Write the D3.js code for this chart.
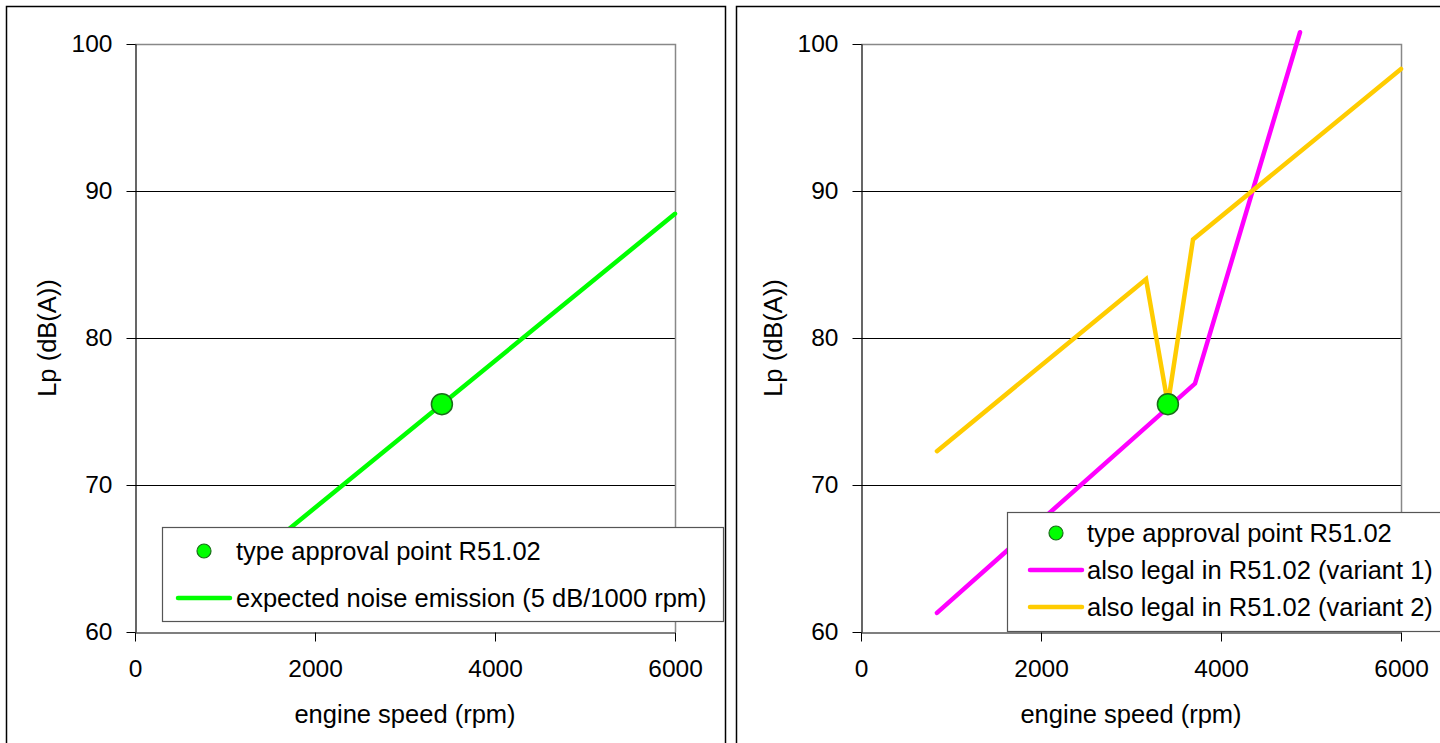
<!DOCTYPE html>
<html>
<head>
<meta charset="utf-8">
<script src="https://cdn.jsdelivr.net/npm/d3@7"></script>
<style>
  html, body { margin: 0; padding: 0; background: #fff; }
  svg { display: block; font-family: "Liberation Sans", Arial, sans-serif; }
</style>
</head>
<body>
<svg id="chart" width="1440" height="743"></svg>
<script>
// ---- data ----
const rpmTicks = [0, 2000, 4000, 6000];
const lpTicks = [60, 70, 80, 90, 100];
const gridLp = [70, 80, 90];

const approvalRpm = [3410];
const approvalLp = [75.5];

const expectedRpm = [850, 6000];
const expectedLp = [62.7, 88.45];

const variant1Rpm = [844, 3711, 4878];
const variant1Lp = [61.3, 76.9, 100.8];

const variant2Rpm = [844, 3167, 3410, 3689, 6000];
const variant2Lp = [72.3, 84.0, 75.5, 86.7, 98.3];

const legendLeft = ["type approval point R51.02", "expected noise emission (5 dB/1000 rpm)"];
const legendRight = ["type approval point R51.02", "also legal in R51.02 (variant 1)", "also legal in R51.02 (variant 2)"];

const xTitle = "engine speed (rpm)";
const yTitle = "Lp (dB(A))";

// ---- drawing ----
const svg = d3.select("#chart");

const GREEN = "#00ff00", MAGENTA = "#ff00ff", YELLOW = "#ffcc00";
const TICK_FS = 24.5, TEXT_FS = 25.5;

function zip(xs, ys) { return xs.map((x, i) => [x, ys[i]]); }

function panel(cfg) {
  const g = svg.append("g");
  // outer frame
  g.append("rect")
    .attr("x", cfg.frameX + 0.5).attr("y", 6.5)
    .attr("width", cfg.frameW).attr("height", 800)
    .attr("fill", "#fff").attr("stroke", "#000").attr("stroke-width", 1.5);

  const x = d3.scaleLinear().domain([0, 6000]).range([cfg.left, cfg.left + 540]);
  const y = d3.scaleLinear().domain([60, 100]).range([632, 44]);

  // grid lines
  g.selectAll(".grid").data(gridLp).enter().append("line")
    .attr("x1", x(0)).attr("x2", x(6000))
    .attr("y1", d => Math.round(y(d)) + 0.5).attr("y2", d => Math.round(y(d)) + 0.5)
    .attr("stroke", "#000").attr("stroke-width", 1);

  // plot border top & right (gray)
  g.append("path")
    .attr("d", `M${x(0)},${y(100) + 0.5}H${x(6000) + 0.5}V${y(60)}`)
    .attr("fill", "none").attr("stroke", "#888").attr("stroke-width", 1.5);

  // axes
  const xAxis = d3.axisBottom(x).tickValues(rpmTicks).tickSizeInner(9).tickSizeOuter(0).tickPadding(18).tickFormat(d3.format("d"));
  const yAxis = d3.axisLeft(y).tickValues(lpTicks).tickSizeInner(9).tickSizeOuter(0).tickPadding(14).tickFormat(d3.format("d"));

  const gx = g.append("g").attr("transform", `translate(0,${y(60) + 0.5})`).call(xAxis);
  const gy = g.append("g").attr("transform", `translate(${x(0) + 0.5},0)`).call(yAxis);
  [gx, gy].forEach(a => {
    a.select(".domain").attr("stroke", "#000").attr("stroke-width", 1.2);
    a.selectAll(".tick line").attr("stroke", "#000").attr("stroke-width", 1);
    a.selectAll(".tick text").attr("fill", "#000").attr("font-size", TICK_FS)
      .attr("font-family", "'Liberation Sans', Arial, sans-serif");
  });

  // axis titles
  g.append("text").attr("x", x(3000)).attr("y", 723).attr("text-anchor", "middle")
    .attr("font-size", TEXT_FS).attr("fill", "#000").text(xTitle);
  g.append("text").attr("transform", `translate(${cfg.left - 79},${y(80)}) rotate(-90)`)
    .attr("text-anchor", "middle").attr("font-size", TEXT_FS).attr("fill", "#000").text(yTitle);

  const line = d3.line().x(d => x(d[0])).y(d => y(d[1]));
  cfg.series.forEach(s => {
    g.append("path").datum(zip(s.xs, s.ys)).attr("d", line)
      .attr("fill", "none").attr("stroke", s.color).attr("stroke-width", 4.5)
      .attr("stroke-linejoin", "miter").attr("stroke-linecap", "round");
  });

  g.selectAll(".pt").data(zip(approvalRpm, approvalLp)).enter().append("circle")
    .attr("cx", d => x(d[0])).attr("cy", d => y(d[1])).attr("r", 10.5)
    .attr("fill", GREEN).attr("stroke", "#1a6e1a").attr("stroke-width", 1.5);

  // legend
  const L = cfg.legend;
  g.append("rect").attr("x", L.x + 0.5).attr("y", L.y + 0.5).attr("width", L.w).attr("height", L.h)
    .attr("fill", "#fff").attr("stroke", "#555").attr("stroke-width", 1.2);
  L.items.forEach((it, i) => {
    const cy = L.rows[i];
    if (it.type === "point") {
      g.append("circle").attr("cx", L.symX).attr("cy", cy).attr("r", 7)
        .attr("fill", GREEN).attr("stroke", "#1a6e1a").attr("stroke-width", 1.2);
    } else {
      g.append("line").attr("x1", L.symX - 26).attr("x2", L.symX + 26)
        .attr("y1", cy).attr("y2", cy).attr("stroke", it.color).attr("stroke-width", 4.5)
        .attr("stroke-linecap", "round");
    }
    g.append("text").attr("x", L.textX).attr("y", cy).attr("dy", "0.35em")
      .attr("font-size", TEXT_FS).attr("fill", "#000").text(it.label);
  });
}

panel({
  frameX: 6, frameW: 719, left: 135,
  series: [{ xs: expectedRpm, ys: expectedLp, color: GREEN }],
  legend: {
    x: 162, y: 527, w: 561, h: 94, symX: 204, textX: 236, rows: [551, 598],
    items: [
      { type: "point", label: legendLeft[0] },
      { type: "line", color: GREEN, label: legendLeft[1] }
    ]
  }
});

panel({
  frameX: 736, frameW: 800, left: 861,
  series: [
    { xs: variant1Rpm, ys: variant1Lp, color: MAGENTA },
    { xs: variant2Rpm, ys: variant2Lp, color: YELLOW }
  ],
  legend: {
    x: 1007, y: 512, w: 500, h: 119, symX: 1056, textX: 1087, rows: [533, 570, 607],
    items: [
      { type: "point", label: legendRight[0] },
      { type: "line", color: MAGENTA, label: legendRight[1] },
      { type: "line", color: YELLOW, label: legendRight[2] }
    ]
  }
});
</script>
</body>
</html>
